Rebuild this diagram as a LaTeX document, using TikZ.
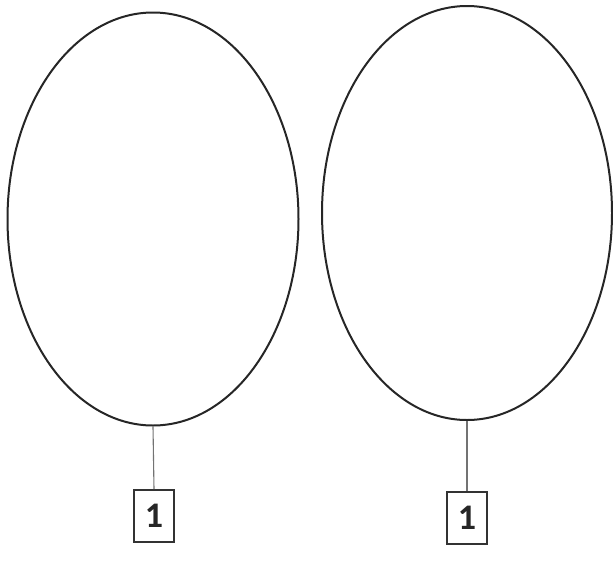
\documentclass[tikz,border=0pt]{standalone}
\usepackage{fontspec}
\setmainfont{Carlito}
\usetikzlibrary{shapes.geometric}
\begin{document}
\begin{tikzpicture}[x=1pt,y=-1pt,
  oval/.style={draw=black!85,line width=2pt,ellipse,inner sep=0pt},
  numbox/.style={draw=black!80,line width=1.6pt,minimum width=40pt,minimum height=52pt,inner sep=0pt,font=\fontsize{36}{36}\selectfont\bfseries,text=black!85},
  link/.style={draw=black!55,line width=1.1pt}]
\useasboundingbox (0,0) rectangle (613,563);
\node[oval,minimum width=291pt,minimum height=413pt] (e1) at (153,219) {};
\node[oval,minimum width=290pt,minimum height=414pt] (e2) at (467,213) {};
\node[numbox] (b1) at (154,516) {1};
\node[numbox] (b2) at (467,518) {1};
\draw[link] (e1.south) -- (b1.north);
\draw[link] (e2.south) -- (b2.north);
\end{tikzpicture}
\end{document}
